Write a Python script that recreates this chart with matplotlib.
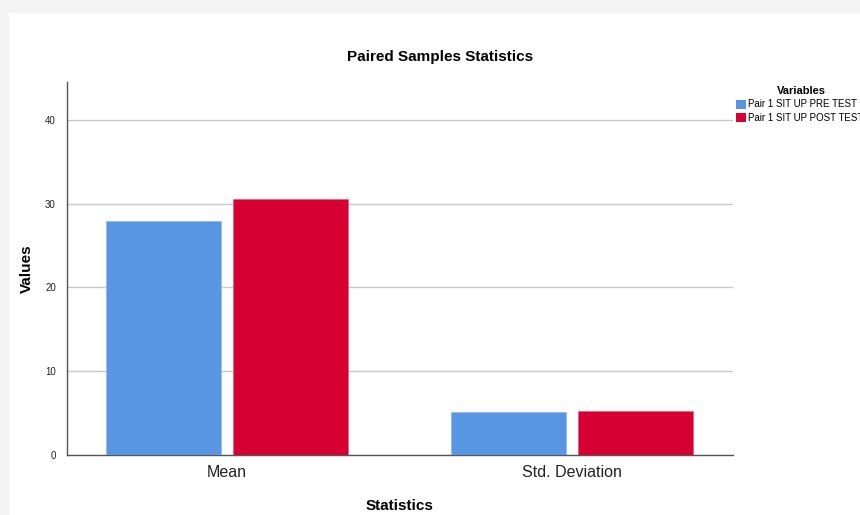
import matplotlib
matplotlib.use("Agg")
import matplotlib.pyplot as plt
from matplotlib.patches import Rectangle
import numpy as np

categories = ["Mean", "Std. Deviation"]
series_names = ["Pair 1 SIT UP PRE TEST", "Pair 1 SIT UP POST TEST"]
pre_values = [27.9, 5.13]
post_values = [30.6, 5.2]
yticks = [0, 10, 20, 30, 40]
colors = ["#5896E4", "#D70032"]

plt.rcParams['font.family'] = ['Liberation Sans', 'DejaVu Sans']

fig = plt.figure(figsize=(8.6, 5.15), dpi=100)
fig.patch.set_facecolor("#f3f3f3")
W, H = 860, 515
card = Rectangle((9 / W, 0), 1, 1 - 13 / H, transform=fig.transFigure,
                 facecolor="white", edgecolor="none", zorder=-10)
fig.patches.append(card)

ax = fig.add_axes([67 / W, 1 - 455 / H, (733 - 67) / W, (455 - 82) / H])
ax.set_facecolor("none")
ax.set_zorder(1)
x = np.arange(len(categories))
bw = 0.333
off = 0.185
ax.bar(x - off, pre_values, bw, color=colors[0], edgecolor="#8fbaf0", linewidth=0.6, zorder=3)
ax.bar(x + off, post_values, bw, color=colors[1], edgecolor="#e8607f", linewidth=0.6, zorder=3)
ax.set_xlim(-0.464, 1.467)
ax.set_ylim(0, 44.5)
ax.set_yticks(yticks)
ax.set_yticklabels([str(t) for t in yticks], fontsize=7)
ax.set_xticks(x)
ax.set_xticklabels(categories, fontsize=11.5, family=['Liberation Sans Narrow', 'Liberation Sans'])
ax.tick_params(axis='both', length=0, colors="#222222")
ax.tick_params(axis='y', pad=8)
ax.tick_params(axis='x', pad=7)
ax.grid(axis='y', color="#c8c8c8", linewidth=1, zorder=0)
for s in ["top", "right"]:
    ax.spines[s].set_visible(False)
for s in ["left", "bottom"]:
    ax.spines[s].set_color("#555555")
    ax.spines[s].set_linewidth(1)
ax.set_ylabel("Values", fontsize=11, fontweight="bold", labelpad=8)
ax.set_xlabel("Statistics", fontsize=11, fontweight="bold", labelpad=14)

fig.text(440 / W, 1 - 57 / H, "Paired Samples Statistics", ha="center", va="center",
         fontsize=11, fontweight="bold")

fig.text(801 / W, 1 - 91 / H, "Variables", ha="center", va="center", fontsize=8, fontweight="bold")
for i, (name, c) in enumerate(zip(series_names, colors)):
    yc = 1 - (104 + i * 14) / H
    fig.patches.append(Rectangle((736 / W, yc - 4.5 / H), 10 / W, 9 / H, transform=fig.transFigure,
                                 facecolor=c, edgecolor="none"))
    fig.text(748 / W, yc, name, ha="left", va="center", fontsize=7)

fig.savefig("out.png", dpi=100, facecolor=fig.get_facecolor())
